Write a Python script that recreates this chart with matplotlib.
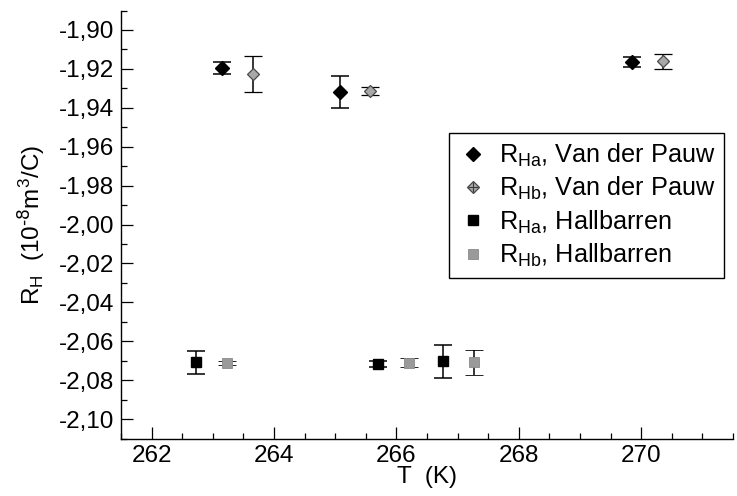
import matplotlib
matplotlib.use("Agg")
import matplotlib.pyplot as plt
from matplotlib.lines import Line2D
from matplotlib.ticker import MultipleLocator, FuncFormatter

plt.rcParams['font.family'] = ['Liberation Sans', 'DejaVu Sans']
plt.rcParams['mathtext.default'] = 'regular'

# Hall coefficient, Van der Pauw geometry
T_vdp_a = [263.15, 265.07, 269.85]
R_vdp_a = [-1.9195, -1.9320, -1.9165]
E_vdp_a = [0.0030, 0.0081, 0.0026]

T_vdp_b = [263.65, 265.57, 270.35]
R_vdp_b = [-1.9228, -1.9312, -1.9161]
E_vdp_b = [0.0093, 0.0021, 0.0040]

# Hall coefficient, Hall bar geometry
T_hb_a = [262.72, 265.70, 266.76]
R_hb_a = [-2.0709, -2.0717, -2.0703]
E_hb_a = [0.0057, 0.0017, 0.0086]

T_hb_b = [263.23, 266.21, 267.27]
R_hb_b = [-2.0712, -2.0710, -2.0709]
E_hb_b = [0.0008, 0.0024, 0.0062]

labels = [r'R$_{Ha}$, Van der Pauw', r'R$_{Hb}$, Van der Pauw',
          r'R$_{Ha}$, Hallbarren', r'R$_{Hb}$, Hallbarren']

fig = plt.figure(figsize=(7.37, 4.96), dpi=100)
ax = fig.add_axes([0.1642, 0.1159, 0.8304, 0.8629])

eb = dict(ls='none', ecolor='black', elinewidth=1.1, capsize=6.5, capthick=1.1)

style_a_vdp = dict(marker='D', ms=6.8, mfc='black', mec='black')
style_b_vdp = dict(marker='D', ms=6.0, mfc='#a8a8a8', mec='#4a4a4a', mew=0.9)
style_a_hb = dict(marker='s', ms=7.3, mfc='black', mec='black')
style_b_hb = dict(marker='s', ms=7.3, mfc='#9a9a9a', mec='#8a8a8a', mew=0.6)
cross = dict(marker='+', ms=6.5, mec='#3a3a3a', mew=0.8)

ax.errorbar(T_vdp_a, R_vdp_a, yerr=E_vdp_a, **style_a_vdp, **eb)
ax.errorbar(T_vdp_b, R_vdp_b, yerr=E_vdp_b, **style_b_vdp, **eb)
ax.plot(T_vdp_b, R_vdp_b, ls='none', **cross)
ax.errorbar(T_hb_a, R_hb_a, yerr=E_hb_a, **style_a_hb, **eb)
ax.errorbar(T_hb_b, R_hb_b, yerr=E_hb_b, **style_b_hb, **eb)

ax.set_xlim(261.5, 271.5)
ax.set_ylim(-2.11, -1.89)
ax.xaxis.set_major_locator(MultipleLocator(2))
ax.xaxis.set_minor_locator(MultipleLocator(0.5))
ax.yaxis.set_major_locator(MultipleLocator(0.02))
ax.yaxis.set_minor_locator(MultipleLocator(0.01))
ax.yaxis.set_major_formatter(FuncFormatter(lambda v, p: f"{v:.2f}".replace('.', ',')))
ax.xaxis.set_major_formatter(FuncFormatter(lambda v, p: f"{v:.0f}"))

for s in ['top', 'right']:
    ax.spines[s].set_visible(False)
for s in ['left', 'bottom']:
    ax.spines[s].set_linewidth(1.0)

ax.tick_params(which='major', direction='in', length=8.5, width=0.9,
               labelsize=17.5, pad=5)
ax.tick_params(which='minor', direction='in', length=4.3, width=0.9)

ax.set_xlabel('T  (K)', fontsize=17.5, labelpad=-1)
ax.set_ylabel(r'R$_H$  (10$^{\text{-8}}$m$^3$/C)', fontsize=17.5, labelpad=8)

handles = [
    Line2D([], [], ls='none', **style_a_vdp),
    (Line2D([], [], ls='none', **style_b_vdp), Line2D([], [], ls='none', **cross)),
    Line2D([], [], ls='none', **style_a_hb),
    Line2D([], [], ls='none', **style_b_hb),
]
leg = ax.legend(handles, labels, loc='upper right',
                bbox_to_anchor=(0.986, 0.714), fontsize=18.2, frameon=True,
                fancybox=False, edgecolor='black', framealpha=1,
                handlelength=1.2, handletextpad=0.45, labelspacing=0.24,
                borderpad=0.35, borderaxespad=0)
leg.get_frame().set_linewidth(1.0)

fig.savefig('out.png', dpi=100)
